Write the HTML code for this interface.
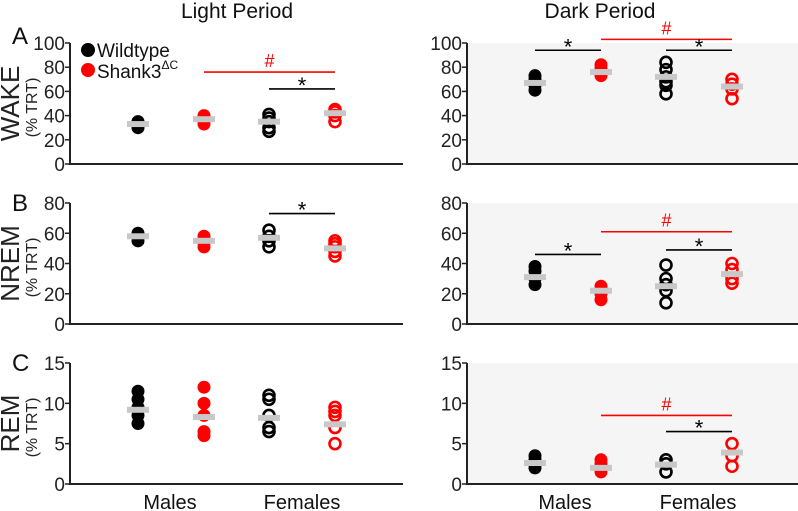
<!DOCTYPE html>
<html><head><meta charset="utf-8"><style>
body{margin:0;background:#fff}
svg{display:block;font-family:"Liberation Sans",Arial,sans-serif}
</style></head><body>
<svg id="chart" width="798" height="511" viewBox="0 0 798 511">
<text x="237" y="18" font-size="21" text-anchor="middle" fill="#111">Light Period</text>
<text x="600" y="18" font-size="21" text-anchor="middle" fill="#111">Dark Period</text>
<text x="12" y="44" font-size="24" fill="#111">A</text>
<text x="12" y="211" font-size="24" fill="#111">B</text>
<text x="12" y="371" font-size="24" fill="#111">C</text>
<g>
<circle cx="88" cy="50" r="7" fill="#000"/>
<text x="97" y="57" font-size="19" fill="#111">Wildtype</text>
<circle cx="88" cy="70" r="7" fill="#f00"/>
<text x="97" y="78" font-size="19" fill="#111">Shank3<tspan font-size="12" dy="-9">ΔC</tspan></text>
</g>
<text x="170" y="509" font-size="20" text-anchor="middle" fill="#111">Males</text>
<text x="302" y="509" font-size="20" text-anchor="middle" fill="#111">Females</text>
<text x="565" y="509" font-size="20" text-anchor="middle" fill="#111">Males</text>
<text x="698" y="509" font-size="20" text-anchor="middle" fill="#111">Females</text>
</svg>
<script>
// Data: group order = WT males, Shank3 males, WT females, Shank3 females
const groups = ["wt-males","shank3-males","wt-females","shank3-females"];
const wakeLight = [[30,33,35],[33,36,38,40],[27,30,35,38,41],[35,40,43,45]];
const wakeLightMed = [33,37,35,42];
const wakeDark = [[61,65,70,73],[73,76,79,82],[58,65,68,72,78,84],[54,62,66,70]];
const wakeDarkMed = [67,76,72,64];
const nremLight = [[55,58,60],[51,54,56,58],[51,55,58,62],[45,48,51,53,55]];
const nremLightMed = [58,55,57,50];
const nremDark = [[26,30,35,38],[16,20,22,25],[14,22,26,30,39],[27,30,36,40]];
const nremDarkMed = [31,22,25,33];
const remLight = [[7.5,8.5,9.5,10.5,11.5],[6,6.5,8.5,10,12],[6.5,7,8.5,10.5,11],[5,7,8.5,9,9.5]];
const remLightMed = [9.2,8.3,8.2,7.4];
const remDark = [[2,2.5,3,3.5],[1.5,2,2.5,3],[1.5,2.5,3],[2.2,3.5,5]];
const remDarkMed = [2.6,2,2.4,3.9];
const wakeTicks = [0,20,40,60,80,100];
const nremTicks = [0,20,40,60,80];
const remTicks = [0,5,10,15];
// significance: [fromGroup,toGroup,valueLevel,symbol]
const sigWakeLight = [[1,3,76,"#"],[2,3,62,"*"]];
const sigWakeDark = [[0,1,94,"*"],[1,3,103,"#"],[2,3,94,"*"]];
const sigNremLight = [[2,3,73,"*"]];
const sigNremDark = [[0,1,46,"*"],[1,3,61,"#"],[2,3,49,"*"]];
const sigRemDark = [[1,3,8.5,"#"],[2,3,6.5,"*"]];

const NS="http://www.w3.org/2000/svg";
const svg=document.getElementById('chart');
function mk(tag,attrs,parent){const e=document.createElementNS(NS,tag);for(const k in attrs)e.setAttribute(k,attrs[k]);(parent||svg).appendChild(e);return e;}

function panel(name,ax,top,bottom,ticks,pts,meds,sigs,dark,ylab){
  const g=mk('g',{});
  
  
  const max=ticks[ticks.length-1];
  const y=v=>bottom-(v/max)*(bottom-top);
  const xs=[ax+68,ax+134,ax+199,ax+265];
  if(dark){const bg=mk('rect',{x:ax,y:top,width:798-ax,height:bottom-top,fill:'#f5f5f5'},g);
    
    }
  const yaxis=mk('line',{x1:ax,y1:top,x2:ax,y2:bottom,stroke:'#222','stroke-width':2},g);
  
  
  const xaxis=mk('line',{x1:ax-1,y1:bottom,x2:ax+333,y2:bottom,stroke:'#222','stroke-width':2},g);
  
  
  ticks.forEach(t=>{
    const tk=mk('line',{x1:ax-5,y1:y(t),x2:ax,y2:y(t),stroke:'#222','stroke-width':1.5},g);
    
    
    const tl=mk('text',{x:ax-5,y:y(t)+7,'font-size':19,'text-anchor':'end',fill:'#222'},g);
    tl.textContent=t;
    
    
  });
  if(ylab){
    const cy=(top+bottom)/2;
    const t1=mk('text',{x:0,y:0,'font-size':26,'text-anchor':'middle',fill:'#222',transform:`translate(19,${cy}) rotate(-90)`},g);
    t1.textContent=ylab;
    
    
    const t2=mk('text',{x:0,y:0,'font-size':16,'text-anchor':'middle',fill:'#222',transform:`translate(37,${cy+4}) rotate(-90)`},g);
    t2.textContent='(% TRT)';
    
    
  }
  pts.forEach((arr,i)=>{
    const col=(i%2===0)?'#000':'#f00';
    const open=i>=2;
    arr.forEach(v=>{
      const c=mk('circle',{cx:xs[i],cy:y(v),r:open?5.5:6.5,fill:open?'none':col,stroke:open?col:'none','stroke-width':open?2.6:0},g);
      
      
    });
    const m=mk('rect',{x:xs[i]-11,y:y(meds[i])-3,width:22,height:6,fill:'#c8c8c8'},g);
    
    
  });
  sigs.forEach(s=>{
    const col=s[3]==='#'?'#f00':'#000';
    const yy=y(s[2]);
    const l=mk('line',{x1:xs[s[0]],y1:yy,x2:xs[s[1]],y2:yy,stroke:col,'stroke-width':1.6},g);
    
    
    const t=mk('text',{x:(xs[s[0]]+xs[s[1]])/2,y:s[3]==='#'?yy-5:yy+4,'font-size':s[3]==='#'?18:22,'text-anchor':'middle',fill:col},g);
    t.textContent=s[3];
    
    
  });
}
panel('wake-light-panel',70,43,164,wakeTicks,wakeLight,wakeLightMed,sigWakeLight,false,'WAKE');
panel('wake-dark-panel',467,43,164,wakeTicks,wakeDark,wakeDarkMed,sigWakeDark,true,null);
panel('nrem-light-panel',70,203,324,nremTicks,nremLight,nremLightMed,sigNremLight,false,'NREM');
panel('nrem-dark-panel',467,203,324,nremTicks,nremDark,nremDarkMed,sigNremDark,true,null);
panel('rem-light-panel',70,363,484,remTicks,remLight,remLightMed,[],false,'REM');
panel('rem-dark-panel',467,363,484,remTicks,remDark,remDarkMed,sigRemDark,true,null);
</script>
</body></html>
